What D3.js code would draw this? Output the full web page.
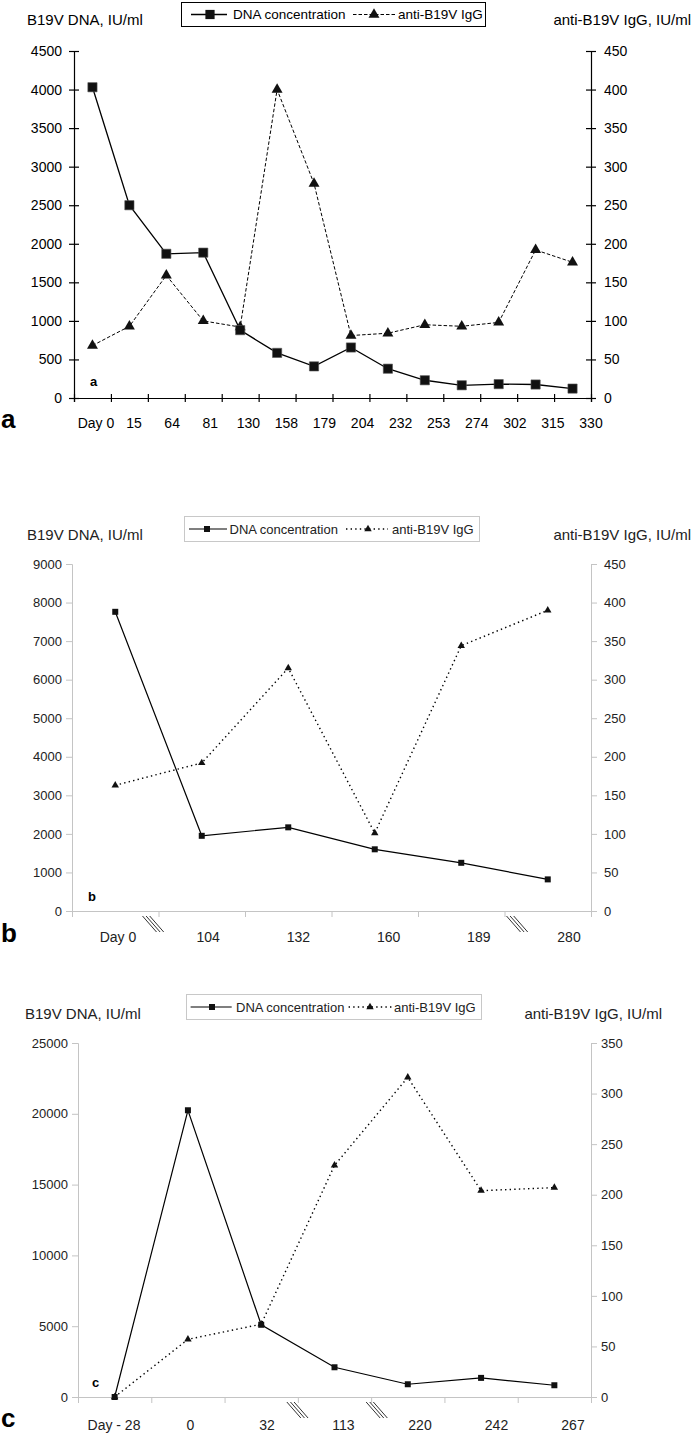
<!DOCTYPE html>
<html><head><meta charset="utf-8">
<script src="https://cdn.jsdelivr.net/npm/d3@7"></script>
<style>
body{margin:0;background:#fff}
svg{display:block}
text{font-family:"Liberation Sans",Arial,Helvetica,sans-serif}
</style>
</head><body>
<svg id="chart" width="692" height="1433"></svg>
<script>
// ---------- DATA ----------
const aLabels = ["Day 0","15","64","81","130","158","179","204","232","253","274","302","315","330"];
const aDNA = [4030,2500,1870,1885,880,585,410,655,380,230,165,180,175,122];
const aIgG = [68,93,159,100,92,400,278,81,84,95,93,98,192,176];
const aLeftTicks = [0,500,1000,1500,2000,2500,3000,3500,4000,4500];
const aRightTicks = [0,50,100,150,200,250,300,350,400,450];

const bLabels = ["Day 0","104","132","160","189","280"];
const bDNA = [7760,1950,2170,1600,1250,820];
const bIgG = [163,192,315,101,344,390];
const bLeftTicks = [0,1000,2000,3000,4000,5000,6000,7000,8000,9000];
const bRightTicks = [0,50,100,150,200,250,300,350,400,450];

const cLabels = ["Day - 28","0","32","113","220","242","267"];
const cDNA = [0,20250,5100,2100,900,1350,830];
const cIgG = [0,57,72,229,316,204,207];
const cLeftTicks = [0,5000,10000,15000,20000,25000];
const cRightTicks = [0,50,100,150,200,250,300,350];

const leftTitle = "B19V DNA, IU/ml";
const rightTitle = "anti-B19V IgG, IU/ml";
const legendNames = ["DNA concentration","anti-B19V IgG"];

// ---------- LAYOUT ----------
const panels = [
  {id:"a", labels:aLabels, dna:aDNA, igg:aIgG, lt:aLeftTicks, rt:aRightTicks,
   x0:74, x1:591, yT:51, yB:398, lab:[96,591], labY:428, titleY:25, lTitleX:27, rTitleX:691,
   tickFs:14, labFs:14, legFs:13.5, lPad:7, rPad:8,
   leg:{x:181,y:2,w:304,h:24, l1:[10,46], m1:29, t1:52, l2:172,l2e:214, m2:193, t2:217},
   bigY:428, smallX:90, smallY:386, breaks:[], heavy:true},
  {id:"b", labels:bLabels, dna:bDNA, igg:bIgG, lt:bLeftTicks, rt:bRightTicks,
   x0:72, x1:591, yT:564, yB:911, lab:[118,569], labY:942, titleY:540, lTitleX:27, rTitleX:691,
   tickFs:13, labFs:14, legFs:13, lPad:4, rPad:7,
   leg:{x:184,y:516,w:295,h:25, l1:[5,43], m1:23, t1:45.5, l2:162,l2e:204, m2:184, t2:208},
   bigY:942, smallX:88, smallY:901, breaks:[[1,-9],[5,9]], heavy:false},
  {id:"c", labels:cLabels, dna:cDNA, igg:cIgG, lt:cLeftTicks, rt:cRightTicks,
   x0:78, x1:591, yT:1043, yB:1397, lab:[114,573], labY:1430, titleY:1019, lTitleX:25, rTitleX:662,
   tickFs:13, labFs:14, legFs:13, lPad:4, rPad:4,
   leg:{x:186,y:994,w:295,h:25, l1:[4.6,45.7], m1:26, t1:50, l2:162.6,l2e:206.8, m2:184, t2:208},
   bigY:1427, smallX:92, smallY:1387, breaks:[[3,-4],[4,2]], heavy:false}
];

const svg = d3.select("#chart");

panels.forEach(p => {
  const g = svg.append("g");
  const n = p.labels.length;
  const axisCol = p.heavy ? "#000" : "#c4c4c4";
  const txtCol = p.heavy ? "#000" : "#222";

  const xb = d3.scaleBand().domain(d3.range(n)).range([p.x0, p.x1]).padding(0);
  const xc = i => xb(i) + xb.bandwidth()/2;
  const xLin = d3.scaleLinear().domain([0,n]).range([p.x0,p.x1]);
  const xLab = d3.scalePoint().domain(d3.range(n)).range(p.lab);
  const yL = d3.scaleLinear().domain([0, d3.max(p.lt)]).range([p.yB, p.yT]);
  const yR = d3.scaleLinear().domain([0, d3.max(p.rt)]).range([p.yB, p.yT]);
  const fmt = d3.format("d");

  const gl = g.append("g").attr("transform",`translate(${p.x0},0)`)
    .call(d3.axisLeft(yL).tickValues(p.lt).tickFormat(fmt).tickSize(p.heavy?5:6).tickPadding(p.lPad));
  const gr = g.append("g").attr("transform",`translate(${p.x1},0)`)
    .call(d3.axisRight(yR).tickValues(p.rt).tickFormat(fmt).tickSize(p.heavy?5:6).tickPadding(p.rPad));
  const gb = g.append("g").attr("transform",`translate(0,${p.yB})`)
    .call(d3.axisBottom(xLin).tickValues(d3.range(n+1)).tickFormat("").tickSize(p.heavy?4:6));

  [gl,gr,gb].forEach(ax => {
    ax.select(".domain").attr("stroke",axisCol).attr("stroke-width",p.heavy?1.2:1);
    ax.selectAll(".tick line").attr("stroke",axisCol).attr("stroke-width",p.heavy?1.2:1);
    ax.selectAll(".tick text").attr("fill",txtCol).style("font-size",p.tickFs+"px")
      .style("font-family",'"Liberation Sans",Arial,sans-serif');
  });
  if (p.heavy) {
    gl.selectAll(".tick line").attr("x1",5);
    gr.selectAll(".tick line").attr("x1",-5);
    gb.selectAll(".tick line").attr("y1",-4);
  }

  g.append("g").selectAll("text").data(p.labels).join("text")
    .attr("x",(d,i)=>xLab(i)).attr("y",p.labY).attr("text-anchor","middle")
    .attr("fill",txtCol).style("font-size",p.labFs+"px").text(d=>d);

  p.breaks.forEach(([bi,off]) => {
    const bx = xLin(bi) + off;
    for (let k=0;k<3;k++){
      g.append("line").attr("x1",bx+k*3.6-7).attr("y1",p.yB+5)
        .attr("x2",bx+k*3.6+7).attr("y2",p.yB+21)
        .attr("stroke","#333").attr("stroke-width",1);
    }
  });

  const lineDNA = d3.line().x((d,i)=>xc(i)).y(d=>yL(d));
  const lineIgG = d3.line().x((d,i)=>xc(i)).y(d=>yR(d));
  g.append("path").datum(p.igg).attr("d",lineIgG).attr("fill","none")
    .attr("stroke","#000").attr("stroke-width",p.heavy?1:1.4)
    .attr("stroke-dasharray",p.heavy?"3.5,2":"1.4,3.2");
  g.append("path").datum(p.dna).attr("d",lineDNA).attr("fill","none")
    .attr("stroke","#000").attr("stroke-width",p.heavy?1.3:1.2);

  const sq = d3.symbol().type(d3.symbolSquare).size(p.heavy?85:36);
  const tri = d3.symbol().type(d3.symbolTriangle).size(p.heavy?52:24);
  g.append("g").selectAll("path").data(p.igg).join("path")
    .attr("d",tri).attr("transform",(d,i)=>`translate(${xc(i)},${yR(d)})`).attr("fill","#111");
  g.append("g").selectAll("path").data(p.dna).join("path")
    .attr("d",sq).attr("transform",(d,i)=>`translate(${xc(i)},${yL(d)})`).attr("fill","#111")
    .attr("stroke",p.heavy?"#555":"none").attr("stroke-width",0.6);

  g.append("text").attr("x",p.lTitleX).attr("y",p.titleY).attr("fill",txtCol)
    .style("font-size","15px").text(leftTitle);
  g.append("text").attr("x",p.rTitleX).attr("y",p.titleY).attr("text-anchor","end")
    .attr("fill",txtCol).style("font-size","15px").text(rightTitle);

  const L = p.leg;
  const lg = g.append("g").attr("transform",`translate(${L.x},${L.y})`);
  lg.append("rect").attr("x",0.5).attr("y",0.5).attr("width",L.w).attr("height",L.h)
    .attr("fill","#fff").attr("stroke",p.heavy?"#000":"#c8c8c8").attr("stroke-width",1);
  const cy = L.h/2 + 0.5;
  lg.append("line").attr("x1",L.l1[0]).attr("x2",L.l1[1]).attr("y1",cy).attr("y2",cy)
    .attr("stroke","#000").attr("stroke-width",p.heavy?1.3:1.2);
  lg.append("path").attr("d",sq).attr("transform",`translate(${L.m1},${cy})`).attr("fill","#111");
  lg.append("text").attr("x",L.t1).attr("y",cy+4.8).attr("fill",txtCol)
    .style("font-size",p.legFs+"px").text(legendNames[0]);
  lg.append("line").attr("x1",L.l2).attr("x2",L.l2e).attr("y1",cy).attr("y2",cy)
    .attr("stroke","#000").attr("stroke-width",p.heavy?1:1.4)
    .attr("stroke-dasharray",p.heavy?"3.5,2":"1.4,3.2");
  lg.append("path").attr("d",tri).attr("transform",`translate(${L.m2},${cy})`).attr("fill","#111");
  lg.append("text").attr("x",L.t2).attr("y",cy+4.8).attr("fill",txtCol)
    .style("font-size",p.legFs+"px").text(legendNames[1]);

  g.append("text").attr("x",1).attr("y",p.bigY).attr("fill","#000")
    .style("font-size","26px").style("font-weight","bold").text(p.id);
  g.append("text").attr("x",p.smallX).attr("y",p.smallY).attr("fill","#000")
    .style("font-size","13px").style("font-weight","bold").text(p.id);
});
</script>
</body></html>
